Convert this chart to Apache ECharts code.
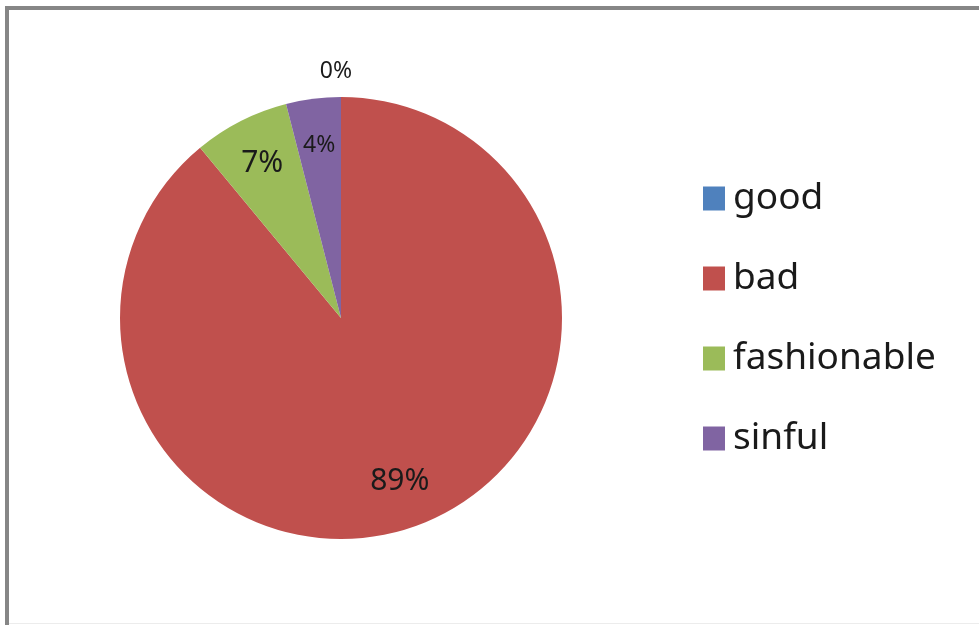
<!DOCTYPE html>
<html>
<head>
<meta charset="utf-8">
<script src="https://cdn.jsdelivr.net/npm/echarts@6/dist/echarts.min.js"></script>
<style>
html,body{margin:0;padding:0;background:#fff;}
#chart{width:979px;height:625px;}
</style>
</head>
<body>
<div id="chart"></div>
<script>
const categories = ['good', 'bad', 'fashionable', 'sinful'];
const values = [0, 89, 7, 4];
const colors = ['#4F81BD', '#C0504D', '#9BBB59', '#8064A2'];
const labelSizes = [23, 30, 30, 23];

const FONT = '"Noto Sans", "Open Sans", sans-serif';
const data = categories.map((n, i) => ({ name: n, value: values[i], itemStyle: { color: colors[i] } }));
const labelData = categories.map((n, i) => ({
  name: n,
  value: values[i],
  label: i === 0
    ? { position: 'outside', fontSize: labelSizes[i] }
    : { position: 'inside', fontSize: labelSizes[i] },
  labelLine: { show: false, length: 26, length2: 0 }
}));

const chart = echarts.init(document.getElementById('chart'), null, { renderer: 'canvas' });
chart.setOption({
  animation: false,
  color: colors,
  graphic: [
    { type: 'line', silent: true, shape: { x1: 7, y1: 8, x2: 979, y2: 8 }, style: { stroke: '#868686', lineWidth: 4 } },
    { type: 'line', silent: true, shape: { x1: 7, y1: 6, x2: 7, y2: 625 }, style: { stroke: '#868686', lineWidth: 4 } },
    { type: 'line', silent: true, shape: { x1: 9, y1: 623.5, x2: 979, y2: 623.5 }, style: { stroke: '#ececec', lineWidth: 1 } }
  ],
  legend: {
    orient: 'vertical',
    left: 698,
    top: 175,
    itemWidth: 22,
    itemHeight: 24,
    itemGap: 43,
    icon: 'rect',
    textStyle: { fontFamily: FONT, fontSize: 37, color: '#1a1a1a', padding: [0, 0, 0, 3] },
    data: categories
  },
  series: [
    {
      type: 'pie',
      center: [341, 318],
      radius: [0, 221],
      startAngle: 90,
      clockwise: true,
      silent: true,
      label: { show: false },
      labelLine: { show: false },
      itemStyle: { borderWidth: 0 },
      data: data
    },
    {
      type: 'pie',
      center: [341, 318],
      radius: [120, 221],
      startAngle: 90,
      clockwise: true,
      silent: true,
      avoidLabelOverlap: false,
      itemStyle: { color: 'rgba(0,0,0,0)', borderWidth: 0 },
      label: {
        show: true,
        fontFamily: FONT,
        color: '#1a1a1a',
        formatter: p => p.value + '%'
      },
      labelLayout: p => (p.dataIndex === 0 ? { align: 'center' } : {}),
      data: labelData
    }
  ]
});
</script>
</body>
</html>
